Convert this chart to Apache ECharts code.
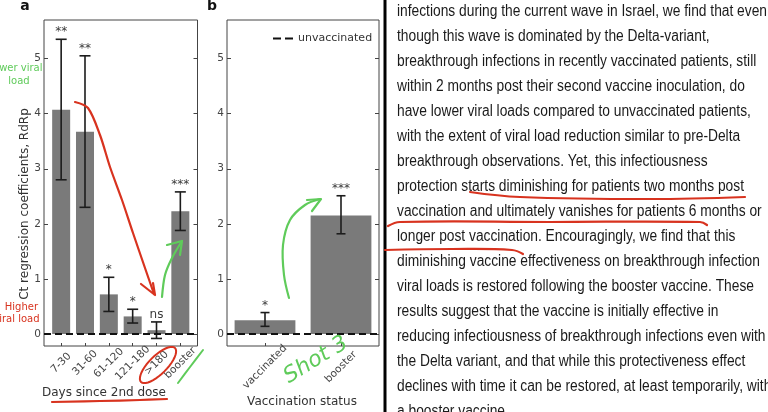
<!DOCTYPE html>
<html><head><meta charset="utf-8">
<script src="https://cdn.jsdelivr.net/npm/echarts@6/dist/echarts.min.js"></script>
<style>html,body{margin:0;padding:0;background:#fff}#c{width:768px;height:412px}</style>
</head><body><div id="c"></div>
<script>
// ---- data ----
const catsA = ['7-30', '31-60', '61-120', '121-180', '>180', 'booster'];
const valsA = [4.07, 3.67, 0.72, 0.32, 0.07, 2.23];
const lowA  = [2.80, 2.30, 0.41, 0.20, -0.08, 1.88];
const highA = [5.35, 5.05, 1.03, 0.45, 0.22, 2.58];
const sigA  = ['**', '**', '*', '*', 'ns', '***'];
const catsB = ['vaccinated', 'booster'];
const valsB = [0.25, 2.15];
const lowB  = [0.14, 1.82];
const highB = [0.39, 2.51];
const sigB  = ['*', '***'];
const yTicks = [0, 1, 2, 3, 4, 5];
const unvacc = 0;
const paragraph = [
  'infections during the current wave in Israel, we find that even',
  'though this wave is dominated by the Delta-variant,',
  'breakthrough infections in recently vaccinated patients, still',
  'within 2 months post their second vaccine inoculation, do',
  'have lower viral loads compared to unvaccinated patients,',
  'with the extent of viral load reduction similar to pre-Delta',
  'breakthrough observations. Yet, this infectiousness',
  'protection starts diminishing for patients two months post',
  'vaccination and ultimately vanishes for patients 6 months or',
  'longer post vaccination. Encouragingly, we find that this',
  'diminishing vaccine effectiveness on breakthrough infection',
  'viral loads is restored following the booster vaccine. These',
  'results suggest that the vaccine is initially effective in',
  'reducing infectiousness of breakthrough infections even with',
  'the Delta variant, and that while this protectiveness effect',
  'declines with time it can be restored, at least temporarily, with',
  'a booster vaccine.'
];

// ---- layout / style ----
const yMin = -0.217, yMax = 5.70;
const CF = '"DejaVu Sans", sans-serif';
const BAR = '#7a7a7a';
const RED = '#d8331f';
const GREEN = '#5fcb5a';
const xMinA = -0.72, xMaxA = 5.72;

function errSeries(xi, yi, lows, highs, sig, capW) {
  return {
    type: 'custom', xAxisIndex: xi, yAxisIndex: yi, z: 5,
    data: lows.map((l, i) => [i, l, highs[i]]),
    encode: { x: 0, y: [1, 2] },
    renderItem: (p, api) => {
      const i = api.value(0);
      const a = api.coord([i, api.value(1)]);
      const b = api.coord([i, api.value(2)]);
      const x = a[0], h = capW / 2;
      const st = { stroke: '#1c1c1c', lineWidth: 1.6 };
      return { type: 'group', children: [
        { type: 'line', shape: { x1: x, y1: a[1], x2: x, y2: b[1] }, style: st },
        { type: 'line', shape: { x1: x - h, y1: a[1], x2: x + h, y2: a[1] }, style: st },
        { type: 'line', shape: { x1: x - h, y1: b[1], x2: x + h, y2: b[1] }, style: st },
        { type: 'text', style: { text: sig[i], x: x, y: b[1] - 1, align: 'center', verticalAlign: 'bottom',
          textAlign: 'center', textVerticalAlign: 'bottom', fill: '#3a3a3a', font: '12px ' + CF } }
      ] };
    }
  };
}

function yAx(gi, showLabel, pos) {
  return {
    type: 'value', gridIndex: gi, min: yMin, max: yMax, position: pos,
    axisLine: { show: false, onZero: false }, splitLine: { show: false },
    axisTick: { show: true, inside: true, length: 4, customValues: yTicks, lineStyle: { color: '#444' } },
    axisLabel: { show: showLabel, customValues: yTicks, margin: 3, fontSize: 10.5, color: '#444', fontFamily: CF }
  };
}

const dashLine = { color: '#111', width: 2, type: [7, 4] };

function ellipsePts(cx, cy, rx, ry, rot) {
  const pts = [];
  for (let k = 0; k < 40; k++) {
    const t = k / 40 * Math.PI * 2;
    const ex = rx * Math.cos(t), ey = ry * Math.sin(t);
    pts.push([cx + ex * Math.cos(rot) - ey * Math.sin(rot), cy + ex * Math.sin(rot) + ey * Math.cos(rot)]);
  }
  return pts;
}

// measure paragraph width for horizontal squeeze
const TF = '16px "Liberation Sans", Arial, sans-serif';
const cv = document.createElement('canvas').getContext('2d');
cv.font = TF;
const sx = 370 / cv.measureText(paragraph[0]).width;

const graphics = [];
graphics.push({ type: 'rect', shape: { x: 383.5, y: 0, width: 3, height: 412 }, style: { fill: '#000' } });
paragraph.forEach((t, i) => {
  graphics.push({ type: 'text', x: 397, y: 11.7 + 25 * i, scaleX: sx,
    style: { text: t, x: 0, y: 0, font: TF, fill: '#1a1a1a', align: 'left', verticalAlign: 'middle',
      textAlign: 'left', textVerticalAlign: 'middle' } });
});
function stroke(pts, color, w, smooth) {
  graphics.push({ type: 'polyline', shape: { points: pts, smooth: smooth || 0 },
    style: { stroke: color, lineWidth: w || 2.2, fill: null, lineCap: 'round', lineJoin: 'round' }, z: 20 });
}
// text underlines
stroke([[470, 192], [520, 197], [650, 199], [745, 197]], RED, 2.2, 0.4);
stroke([[388, 226], [400, 222], [550, 222], [700, 222], [707, 225]], RED, 2.2, 0.4);
stroke([[385, 250], [452, 249], [512, 250], [523, 254]], RED, 2.2, 0.4);

function txt(t, x, y, font, fill, align, rot) {
  graphics.push({ type: 'text', x: x, y: y, rotation: rot || 0,
    style: { text: t, x: 0, y: 0, font: font, fill: fill, align: align || 'center', verticalAlign: 'middle',
      textAlign: align || 'center', textVerticalAlign: 'middle' }, z: 10 });
}
txt('a', 25, 6, 'bold 14px ' + CF, '#111');
txt('b', 212, 6, 'bold 14px ' + CF, '#111');
txt('Ct regression coefficients, RdRp', 25, 204, '12px ' + CF, '#333', 'center', Math.PI / 2);
txt('Days since 2nd dose', 104, 393, '12px ' + CF, '#333');
txt('Vaccination status', 302, 402, '12px ' + CF, '#333');
txt('Lower viral', 42.5, 68, '10px ' + CF, GREEN, 'right');
txt('load', 19, 81, '10px ' + CF, GREEN);
txt('Higher', 38, 307, '10px ' + CF, RED, 'right');
txt('viral load', 39.5, 319, '10px ' + CF, RED, 'right');

// annotations panel a
stroke([[75, 102], [88, 108], [100, 135], [110, 167], [122, 200], [133, 233], [145, 268], [154, 294]], RED, 2.2, 0.3);
stroke([[141, 284], [155, 295], [153, 283]], RED, 2.2);
graphics.push({ type: 'polygon', shape: { points: ellipsePts(158, 365, 24, 9, -Math.PI / 4) },
  style: { stroke: RED, lineWidth: 2, fill: null }, z: 20 });
stroke([[52, 402], [100, 401], [140, 400], [167, 399]], RED, 2.2, 0.4);
stroke([[162, 297], [165, 275], [172, 258], [182, 241]], GREEN, 2.2, 0.3);
stroke([[167, 245], [182, 241], [180, 255]], GREEN, 2.2);
stroke([[178, 383], [190, 367], [203, 350]], GREEN, 2, 0.3);
// annotations panel b
stroke([[289, 298], [284, 275], [283, 245], [290, 220], [305, 205], [320, 199]], GREEN, 2.2, 0.35);
stroke([[307, 200], [321, 199], [312, 211]], GREEN, 2.2);
txt('Shot 3', 316, 360, 'italic 22px "DejaVu Sans", sans-serif', GREEN, 'center', 0.55);

const option = {
  animation: false,
  backgroundColor: '#fff',
  grid: [
    { left: 44, top: 20, width: 153.5, height: 326, show: true, borderColor: '#444', borderWidth: 1, backgroundColor: 'transparent' },
    { left: 227, top: 20, width: 152, height: 326, show: true, borderColor: '#444', borderWidth: 1, backgroundColor: 'transparent' }
  ],
  legend: { data: [{ name: 'unvaccinated', icon: 'path://M0,0h8v2h-8zM12,0h8v2h-8z' }],
    left: 268, top: 28, itemWidth: 20, itemHeight: 2, itemGap: 6,
    itemStyle: { color: '#111' },
    textStyle: { fontSize: 11, color: '#333', fontFamily: CF } },
  xAxis: [
    { type: 'value', gridIndex: 0, min: xMinA, max: xMaxA, axisLine: { show: false, onZero: false }, splitLine: { show: false },
      axisTick: { show: true, inside: true, length: 3, customValues: [0, 1, 2, 3, 4, 5], lineStyle: { color: '#444' } },
      axisLabel: { customValues: [0, 1, 2, 3, 4, 5], formatter: v => catsA[Math.round(v)], rotate: 45,
        align: 'center', verticalAlign: 'middle', margin: 17, fontSize: 10.5, color: '#444', fontFamily: CF } },
    { type: 'category', gridIndex: 1, data: catsB, boundaryGap: true, axisLine: { show: false, onZero: false },
      axisTick: { show: true, inside: true, length: 3, alignWithLabel: true, lineStyle: { color: '#444' } },
      axisLabel: { rotate: 45, align: 'center', verticalAlign: 'middle', margin: 21, fontSize: 10.5, color: '#444', fontFamily: CF } },
    { type: 'value', gridIndex: 1, min: -0.5, max: 1.5, show: false, axisLine: { onZero: false } }
  ],
  yAxis: [yAx(0, true, 'left'), yAx(0, false, 'right'), yAx(1, true, 'left'), yAx(1, false, 'right')],
  series: [
    { type: 'bar', xAxisIndex: 0, yAxisIndex: 0, barWidth: 18, itemStyle: { color: BAR },
      data: valsA.map((v, i) => [i, v]) },
    { type: 'bar', xAxisIndex: 1, yAxisIndex: 2, barWidth: '80%', itemStyle: { color: BAR }, data: valsB },
    errSeries(0, 0, lowA, highA, sigA, 11),
    errSeries(1, 2, lowB, highB, sigB, 9),
    { name: 'unvaccinated', type: 'line', xAxisIndex: 0, yAxisIndex: 0, symbol: 'none', z: 6, color: '#111',
      lineStyle: dashLine, data: [[xMinA, unvacc], [xMaxA, unvacc]] },
    { name: 'unvaccinated', type: 'line', xAxisIndex: 2, yAxisIndex: 2, symbol: 'none', z: 6, color: '#111',
      lineStyle: dashLine, data: [[-0.5, unvacc], [1.5, unvacc]] }
  ],
  graphic: { elements: graphics }
};
const chart = echarts.init(document.getElementById('c'));
chart.setOption(option);
</script></body></html>
